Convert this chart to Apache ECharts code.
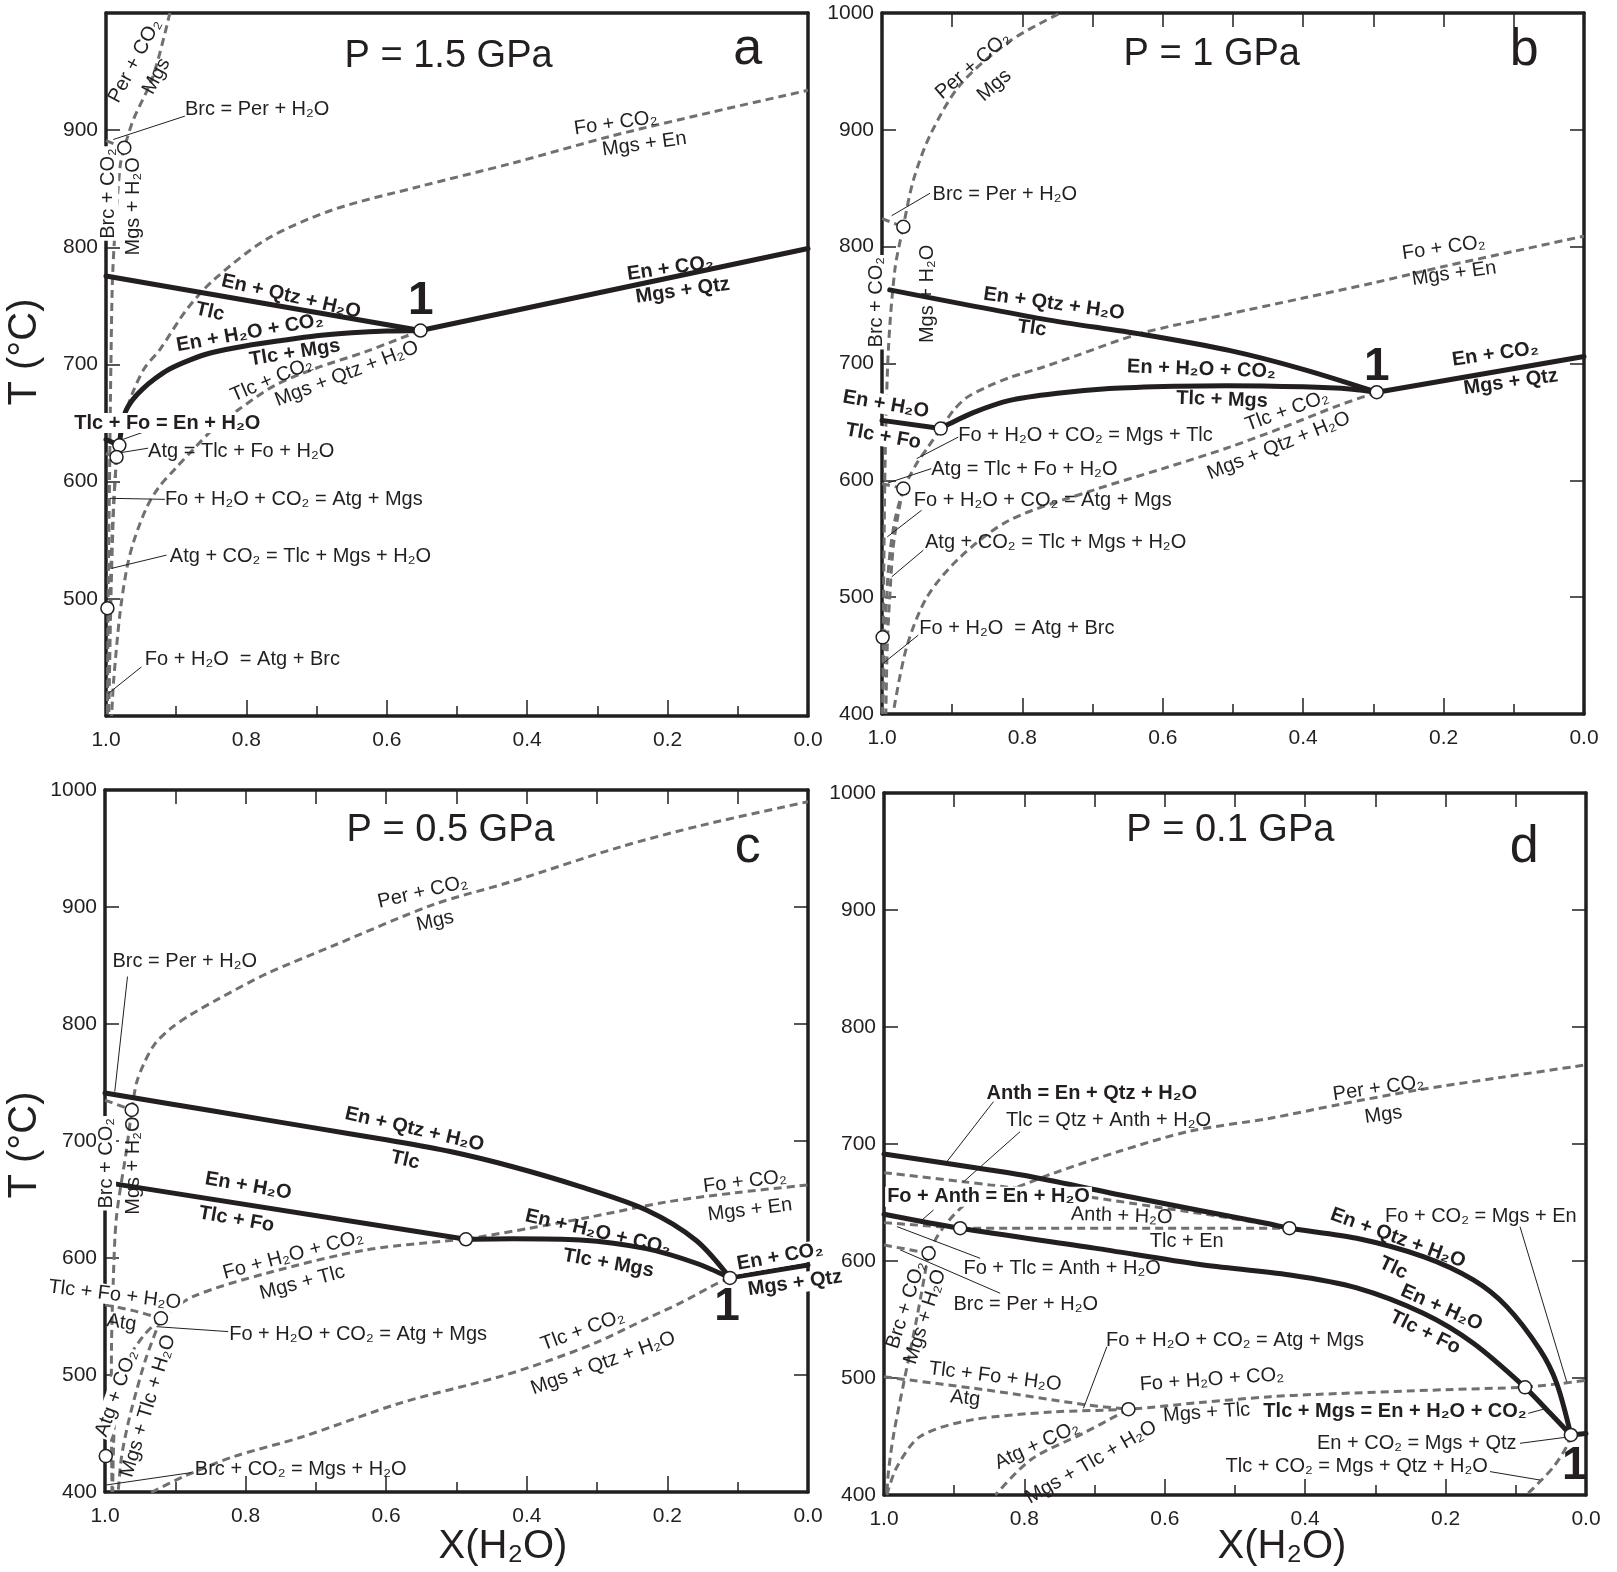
<!DOCTYPE html>
<html>
<head>
<meta charset="utf-8">
<title>T - X(H2O) sections</title>
<script src="https://cdn.jsdelivr.net/npm/echarts/dist/echarts.min.js"></script>
<style>
html,body{margin:0;padding:0;background:#fff;}
#main{width:1617px;height:1572px;}
</style>
</head>
<body>
<div id="main"></div>
<script>
// reaction curves, every point is [X(H2O), T in degC]

// ---- a : P = 1.5 GPa
var a_enQtzH2O_Tlc = [[1.0,775.5],[0.552,729]];
var a_enCO2_MgsQtz = [[0.552,729],[0.0,799]];
var a_tlcMgs_EnH2OCO2 = [[0.981,631],[0.978,645],[0.972,660],[0.962,670],[0.948,679],[0.93,688],[0.91,696],[0.88,704],[0.85,710],[0.80,716],[0.75,720.5],[0.70,724.5],[0.65,727],[0.60,728.5],[0.552,729]];
var a_tlcFo_EnH2O = [[1.0,636],[0.981,631]];
var a_perCO2_Mgs = [[0.909,1000],[0.933,946],[0.961,909],[0.974,885]];
var a_brc_PerH2O = [[1.0,891],[0.974,885]];
var a_brcCO2_MgsH2O = [[0.974,885],[0.980,869],[0.990,784],[0.993,700],[0.995,600],[0.997,500],[0.998,400]];
var a_foCO2_MgsEn = [[0.981,631],[0.972,658],[0.962,676],[0.945,697],[0.923,713],[0.885,747],[0.847,772],[0.771,807],[0.677,832],[0.553,852],[0.42,872],[0.28,895],[0.14,915],[0.0,934]];
var a_tlcCO2_MgsQtzH2O = [[0.552,729],[0.63,711],[0.70,697],[0.76,682],[0.81,662],[0.847,645],[0.875,628],[0.90,612],[0.925,595],[0.942,578],[0.960,550],[0.970,527],[0.980,488],[0.989,431],[0.992,400]];
var a_foH2OCO2_MgsTlc = [[0.981,631],[0.985,621]];
var a_atg_TlcFoH2O = [[1.0,624],[0.985,621]];
var a_foH2OCO2_AtgMgs = [[0.985,621],[0.989,580],[0.993,500],[0.996,400]];
var a_atgCO2_TlcMgsH2O = [[0.985,621],[0.991,560],[0.995,480],[0.998,400]];
var a_points = [[0.974,885],[0.552,729],[0.981,631],[0.985,621],[0.998,492]];

// ---- b : P = 1 GPa
var b_enQtzH2O_Tlc = [[0.989,763],[0.77,738],[0.63,725],[0.504,711],[0.40,695],[0.295,675.4]];
var b_enCO2_MgsQtz = [[0.295,675.4],[0.0,706]];
var b_tlcMgs_EnH2OCO2 = [[0.9164,644.3],[0.904,648.4],[0.87,658],[0.818,668.4],[0.75,674.5],[0.676,678.5],[0.58,680.5],[0.509,681],[0.40,680],[0.33,678],[0.295,675.4]];
var b_tlcFo_EnH2O = [[1.0,651.3],[0.9164,644.3]];
var b_perCO2_Mgs = [[0.749,999],[0.818,976],[0.888,939],[0.931,896],[0.9555,856.5],[0.9696,817]];
var b_brc_PerH2O = [[1.0,824],[0.9696,817]];
var b_brcCO2_MgsH2O = [[0.9696,817],[0.9813,782],[0.991,711],[0.996,600],[0.999,400]];
var b_foCO2_MgsEn = [[0.9164,644.3],[0.898,660],[0.879,671],[0.85,680],[0.818,688],[0.77,697],[0.722,707],[0.63,726],[0.509,742],[0.40,756],[0.30,769],[0.2,783],[0.1,796],[0.0,809]];
var b_foH2OCO2_MgsTlc = [[0.9164,644.3],[0.935,628],[0.950,615],[0.962,602],[0.9696,593]];
var b_atg_TlcFoH2O = [[1.0,597],[0.9696,593]];
var b_foH2OCO2_AtgMgs = [[0.9696,593],[0.977,571],[0.984,543],[0.989,500],[0.9925,458],[0.9945,400]];
var b_atgCO2_TlcMgsH2O = [[0.9696,593],[0.982,565],[0.990,530],[0.995,480],[0.998,430],[0.999,400]];
var b_tlcCO2_MgsQtzH2O = [[0.295,675.4],[0.35,664],[0.43,645],[0.504,628.6],[0.60,610],[0.699,591.6],[0.818,566],[0.889,534],[0.936,500],[0.965,457],[0.984,401]];
var b_points = [[0.9696,817],[0.2953,675.4],[0.9164,644.3],[0.9696,593],[0.9991,465.6]];

// ---- c : P = 0.5 GPa
var c_enQtzH2O_Tlc = [[1.0,741],[0.85,726],[0.70,711],[0.60,701],[0.509,691],[0.42,678],[0.324,661],[0.23,641],[0.159,615],[0.111,583]];
var c_enCO2_MgsQtz = [[0.111,583],[0.0,594]];
var c_tlcMgs_EnH2OCO2 = [[0.4866,616],[0.42,616.5],[0.324,615.4],[0.23,608],[0.159,595.5],[0.111,583]];
var c_tlcFo_EnH2O = [[0.993,664],[0.4866,616]];
var c_perCO2_Mgs = [[0.962,726.5],[0.955,750],[0.944,767],[0.929,783],[0.907,796],[0.878,808],[0.84,821],[0.77,843],[0.675,867],[0.533,902],[0.42,922],[0.269,951],[0.15,970],[0.0,990]];
var c_brc_PerH2O = [[1.0,735],[0.962,726.5]];
var c_brcCO2_MgsH2O = [[0.962,726.5],[0.9695,692],[0.9837,635],[0.9884,578],[0.9908,521],[0.991,470],[0.990,400]];
var c_foCO2_MgsEn = [[0.4866,616],[0.40,625],[0.31,635],[0.2,648],[0.1,656],[0.0,662.4]];
var c_foH2OCO2_MgsTlc = [[0.4866,616],[0.628,607],[0.77,587],[0.875,567],[0.9205,548.4]];
var c_tlcFoH2O_Atg = [[1.0,560],[0.96,555],[0.9205,548.4]];
var c_atgCO2_MgsTlcH2O = [[0.9205,548.4],[0.941,515.6],[0.955,487],[0.967,459],[0.9765,430],[0.981,402]];
var c_foH2OCO2_AtgMgs = [[0.9205,548.4],[0.946,533],[0.970,510],[0.984,479],[0.988,436],[0.989,400]];
var c_tlcCO2_MgsQtzH2O = [[0.111,583],[0.13,578],[0.18,562],[0.23,548],[0.30,528],[0.37,512],[0.439,498.5],[0.58,476],[0.72,447],[0.818,430],[0.889,413],[0.936,399]];
var c_points = [[0.962,726.5],[0.9205,548.4],[0.4866,616],[0.111,583],[0.9989,430.7]];

// ---- d : P = 0.1 GPa
var d_enQtzH2O_Tlc = [[1.0,691.5],[0.849,677.8],[0.79,672],[0.643,654],[0.45,631.6],[0.4225,628],[0.3266,619.4],[0.2318,603.7],[0.1605,583.8],[0.113,561],[0.0655,524],[0.0418,495.5],[0.0215,451.3]];
var d_enCO2_MgsQtz = [[0.0215,451.3],[0.0,452.5]];
var d_tlcFo_EnH2O = [[1.0,640],[0.8915,628],[0.7,611],[0.55,597],[0.4217,588],[0.3266,577],[0.2318,555.3],[0.1605,529.7],[0.0869,492],[0.0513,470],[0.0215,451.3]];
var d_perCO2_Mgs = [[0.9365,606.6],[0.925,620],[0.91,633],[0.885,648],[0.863,654],[0.8156,662],[0.7586,675],[0.6637,694],[0.5641,711],[0.45,722],[0.35,734],[0.2411,746],[0.12,757],[0.0,767.6]];
var d_brc_PerH2O = [[1.0,613.7],[0.9365,606.6]];
var d_brcCO2_MgsH2O = [[0.9365,606.6],[0.953,552],[0.972,495.5],[0.986,452.7],[0.9935,421],[0.996,400]];
var d_tlc_QtzAnthH2O = [[1.0,675.5],[0.887,667.8],[0.849,665],[0.7115,655],[0.616,646.5],[0.521,638],[0.4225,628]];
var d_foTlc_AnthH2O = [[1.0,632.8],[0.8915,628]];
var d_anthH2O_TlcEn = [[0.8915,628],[0.4225,628]];
var d_tlcFoH2O_Atg = [[1.0,501],[0.8535,489.7],[0.711,477],[0.6518,473.3]];
var d_foH2OCO2_MgsTlc = [[0.996,400],[0.9816,424],[0.9485,450],[0.877,464],[0.7586,471],[0.6518,473.3],[0.55,479],[0.45,484],[0.3836,486],[0.2,490],[0.0869,492]];
var d_foCO2_MgsEn = [[0.0869,492],[0.04,495],[0.0,498]];
var d_atgCO2_MgsTlcH2O = [[0.6518,473.3],[0.7166,452.6],[0.79,430.6],[0.8414,400]];
var d_tlcCO2_MgsQtzH2O = [[0.0215,451.3],[0.028,441],[0.045,425],[0.063,413],[0.085,400]];
var d_points = [[0.9365,606.6],[0.8915,628],[0.4225,628],[0.6518,473.3],[0.0869,492],[0.0215,451.3]];

// axis ticks
var xTicks = [1.0,0.8,0.6,0.4,0.2,0.0];
var tTicks = [400,500,600,700,800,900,1000];

var INK = '#231f20', GREY = '#707070';
var FONT = '"Liberation Sans", Arial, Helvetica, sans-serif';

var panels = [
  {grid:{left:106,top:13,width:702,height:703}, ends:false, topTicks:false},
  {grid:{left:882,top:13,width:702,height:701}, ends:true, topTicks:true},
  {grid:{left:105,top:790,width:703,height:702}, ends:true, topTicks:true},
  {grid:{left:884,top:793,width:702,height:702}, ends:true, topTicks:true}
];

// s = thick solid, d = grey dashed
var curves = [
  [0,'s',a_enQtzH2O_Tlc],[0,'s',a_enCO2_MgsQtz],[0,'s',a_tlcMgs_EnH2OCO2],[0,'s',a_tlcFo_EnH2O],
  [0,'d',a_perCO2_Mgs],[0,'d',a_brc_PerH2O],[0,'d',a_brcCO2_MgsH2O],[0,'d',a_foCO2_MgsEn],
  [0,'d',a_tlcCO2_MgsQtzH2O],[0,'d',a_foH2OCO2_MgsTlc],[0,'d',a_atg_TlcFoH2O],[0,'d',a_foH2OCO2_AtgMgs],[0,'d',a_atgCO2_TlcMgsH2O],
  [1,'s',b_enQtzH2O_Tlc],[1,'s',b_enCO2_MgsQtz],[1,'s',b_tlcMgs_EnH2OCO2],[1,'s',b_tlcFo_EnH2O],
  [1,'d',b_perCO2_Mgs],[1,'d',b_brc_PerH2O],[1,'d',b_brcCO2_MgsH2O],[1,'d',b_foCO2_MgsEn],[1,'d',b_foH2OCO2_MgsTlc],
  [1,'d',b_atg_TlcFoH2O],[1,'d',b_foH2OCO2_AtgMgs],[1,'d',b_atgCO2_TlcMgsH2O],[1,'d',b_tlcCO2_MgsQtzH2O],
  [2,'s',c_enQtzH2O_Tlc],[2,'s',c_enCO2_MgsQtz],[2,'s',c_tlcMgs_EnH2OCO2],[2,'s',c_tlcFo_EnH2O],
  [2,'d',c_perCO2_Mgs],[2,'d',c_brc_PerH2O],[2,'d',c_brcCO2_MgsH2O],[2,'d',c_foCO2_MgsEn],[2,'d',c_foH2OCO2_MgsTlc],
  [2,'d',c_tlcFoH2O_Atg],[2,'d',c_atgCO2_MgsTlcH2O],[2,'d',c_foH2OCO2_AtgMgs],[2,'d',c_tlcCO2_MgsQtzH2O],
  [3,'s',d_enQtzH2O_Tlc],[3,'s',d_enCO2_MgsQtz],[3,'s',d_tlcFo_EnH2O],
  [3,'d',d_perCO2_Mgs],[3,'d',d_brc_PerH2O],[3,'d',d_brcCO2_MgsH2O],[3,'d',d_tlc_QtzAnthH2O],[3,'d',d_foTlc_AnthH2O],
  [3,'d',d_anthH2O_TlcEn],[3,'d',d_tlcFoH2O_Atg],[3,'d',d_foH2OCO2_MgsTlc],[3,'d',d_foCO2_MgsEn],
  [3,'d',d_atgCO2_MgsTlcH2O],[3,'d',d_tlcCO2_MgsQtzH2O]
];
var pointSets = [a_points, b_points, c_points, d_points];

// leader lines from labels to their curves
var leaders = [
  [0,[[0.8876,912],[0.9897,892]]],[0,[[0.9304,645.7],[0.9851,634.2]]],[0,[[0.94,628.6],[0.9898,623.7]]],
  [0,[[0.9161,584.9],[0.9944,585.8]]],[0,[[0.9139,537.3],[0.992,526]]],[0,[[0.9495,441.9],[0.9969,419.1]]],
  [1,[[0.9317,845.7],[0.9862,826.5]]],[1,[[0.8913,637],[0.9506,618.6]]],[1,[[0.9298,610],[0.9916,597.7]]],
  [1,[[0.9436,574.4],[0.9925,551.6]]],[1,[[0.9412,540.2],[0.9862,517.4]]],[1,[[0.9483,467.5],[0.9983,443.4]]],
  [2,[[0.968,840.5],[0.9861,742.2]]],[2,[[0.8248,537.1],[0.9268,541.3]]],[2,[[0.8769,416.6],[0.998,406]]],
  [3,[[0.8441,736.2],[0.9104,684.9]]],[3,[[0.8062,710.5],[0.8869,667.6]]],[3,[[0.9295,643.6],[0.9486,633.6]]],
  [3,[[0.863,602.3],[0.9816,629.4]]],[3,[[0.8345,572.4],[0.977,609.5]]],[3,[[0.094,629.3],[0.0275,496.8]]],
  [3,[[0.6825,526.8],[0.7159,474.1]]],[3,[[0.0822,469.8],[0.056,474.1]]],[3,[[0.094,444.2],[0.0228,449.8]]],
  [3,[[0.1368,420],[0.0655,412.8]]]
];

// labels: p panel, x/t anchor, r rotation (deg), b bold, a align, bg white knock-out, k kind
var notes = [
  {p:0,x:0.512,t:963,s:'P = 1.5 GPa',k:'title'},
  {p:0,x:0.086,t:969,s:'a',k:'letter'},
  {p:0,x:0.9588,t:959,s:'Per + CO₂',r:62},
  {p:0,x:0.928,t:946,s:'Mgs',r:62},
  {p:0,x:0.8876,t:918,s:'Brc = Per + H₂O',a:'left'},
  {p:0,x:0.9968,t:846,s:'Brc + CO₂',r:90,bg:1},
  {p:0,x:0.9612,t:835,s:'Mgs + H₂O',r:90},
  {p:0,x:0.274,t:906,s:'Fo + CO₂',r:8},
  {p:0,x:0.233,t:888,s:'Mgs + En',r:8},
  {p:0,x:0.196,t:782,s:'En + CO₂',r:8,b:1},
  {p:0,x:0.1785,t:763,s:'Mgs + Qtz',r:8,b:1},
  {p:0,x:0.5517,t:754,s:'1',k:'one'},
  {p:0,x:0.7364,t:758,s:'En + Qtz + H₂O',r:-13,b:1},
  {p:0,x:0.852,t:745,s:'Tlc',r:-13,b:1},
  {p:0,x:0.795,t:727,s:'En + H₂O + CO₂',r:10,b:1},
  {p:0,x:0.731,t:710,s:'Tlc + Mgs',r:9,b:1},
  {p:0,x:0.764,t:687,s:'Tlc + CO₂',r:23},
  {p:0,x:0.657,t:692,s:'Mgs + Qtz + H₂O',r:21},
  {p:0,x:0.9127,t:650,s:'Tlc + Fo = En + H₂O',b:1,bg:1},
  {p:0,x:0.94,t:625.6,s:'Atg = Tlc + Fo + H₂O',a:'left'},
  {p:0,x:0.9161,t:584.4,s:'Fo + H₂O + CO₂ = Atg + Mgs',a:'left'},
  {p:0,x:0.9091,t:535.9,s:'Atg + CO₂ = Tlc + Mgs + H₂O',a:'left'},
  {p:0,x:0.9447,t:448.2,s:'Fo + H₂O  = Atg + Brc',a:'left'},

  {p:1,x:0.5303,t:964.5,s:'P = 1 GPa',k:'title'},
  {p:1,x:0.0852,t:968,s:'b',k:'letter'},
  {p:1,x:0.8704,t:955,s:'Per + CO₂',r:41},
  {p:1,x:0.8399,t:938,s:'Mgs',r:41},
  {p:1,x:0.9279,t:845,s:'Brc = Per + H₂O',a:'left'},
  {p:1,x:1.0076,t:752.5,s:'Brc + CO₂',r:90,bg:1},
  {p:1,x:0.9357,t:759.6,s:'Mgs + H₂O',r:90},
  {p:1,x:0.1998,t:799,s:'Fo + CO₂',r:8},
  {p:1,x:0.1851,t:777,s:'Mgs + En',r:8},
  {p:1,x:0.7549,t:751,s:'En + Qtz + H₂O',r:-8,b:1},
  {p:1,x:0.7865,t:730,s:'Tlc',r:-8,b:1},
  {p:1,x:0.545,t:695,s:'En + H₂O + CO₂',r:-2,b:1},
  {p:1,x:0.5157,t:669,s:'Tlc + Mgs',r:-2,b:1},
  {p:1,x:0.2953,t:697,s:'1',k:'one'},
  {p:1,x:0.1263,t:708,s:'En + CO₂',r:8,b:1},
  {p:1,x:0.1043,t:684,s:'Mgs + Qtz',r:8,b:1},
  {p:1,x:0.9944,t:665,s:'En + H₂O',r:-10,b:1,bg:1},
  {p:1,x:0.9982,t:637.6,s:'Tlc + Fo',r:-10,b:1,bg:1},
  {p:1,x:0.8913,t:638.5,s:'Fo + H₂O + CO₂ = Mgs + Tlc',a:'left'},
  {p:1,x:0.4231,t:659.5,s:'Tlc + CO₂',r:20},
  {p:1,x:0.4349,t:629.5,s:'Mgs + Qtz + H₂O',r:22},
  {p:1,x:0.9298,t:609.2,s:'Atg = Tlc + Fo + H₂O',a:'left'},
  {p:1,x:0.9546,t:582.4,s:'Fo + H₂O + CO₂ = Atg + Mgs',a:'left'},
  {p:1,x:0.9387,t:546.5,s:'Atg + CO₂ = Tlc + Mgs + H₂O',a:'left'},
  {p:1,x:0.9468,t:473.2,s:'Fo + H₂O  = Atg + Brc',a:'left'},

  {p:2,x:0.5084,t:965.7,s:'P = 0.5 GPa',k:'title'},
  {p:2,x:0.0858,t:950.7,s:'c',k:'letter'},
  {p:2,x:0.548,t:912.8,s:'Per + CO₂',r:13},
  {p:2,x:0.5305,t:888,s:'Mgs',r:13},
  {p:2,x:0.9893,t:853.3,s:'Brc = Per + H₂O',a:'left'},
  {p:2,x:0.9985,t:681,s:'Brc + CO₂',r:90,bg:1},
  {p:2,x:0.96,t:679,s:'Mgs + H₂O',r:90},
  {p:2,x:0.5598,t:710,s:'En + Qtz + H₂O',r:-13,b:1},
  {p:2,x:0.573,t:683.6,s:'Tlc',r:-13,b:1},
  {p:2,x:0.7963,t:661.5,s:'En + H₂O',r:-10,b:1},
  {p:2,x:0.8129,t:633,s:'Tlc + Fo',r:-10,b:1},
  {p:2,x:0.0897,t:665.2,s:'Fo + CO₂',r:7},
  {p:2,x:0.0825,t:641.1,s:'Mgs + En',r:7},
  {p:2,x:0.2986,t:622,s:'En + H₂O + CO₂',r:-13,b:1},
  {p:2,x:0.2839,t:595.5,s:'Tlc + Mgs',r:-10,b:1},
  {p:2,x:0.0398,t:601.1,s:'En + CO₂',r:10,b:1,bg:1},
  {p:2,x:0.0185,t:578.4,s:'Mgs + Qtz',r:8,b:1,bg:1},
  {p:2,x:0.1152,t:557.6,s:'1',k:'one'},
  {p:2,x:0.7324,t:602.6,s:'Fo + H₂O + CO₂',r:15},
  {p:2,x:0.7194,t:578.9,s:'Mgs + Tlc',r:15},
  {p:2,x:0.9861,t:568.4,s:'Tlc + Fo + H₂O',r:-7,bg:1},
  {p:2,x:0.9765,t:544.7,s:'Atg',r:-8},
  {p:2,x:0.8233,t:535,s:'Fo + H₂O + CO₂ = Atg + Mgs',a:'left'},
  {p:2,x:0.9836,t:484.4,s:'Atg + CO₂',r:70,bg:1},
  {p:2,x:0.9387,t:473.5,s:'Mgs + Tlc + H₂O',r:73},
  {p:2,x:0.3206,t:538.2,s:'Tlc + CO₂',r:20},
  {p:2,x:0.2913,t:510,s:'Mgs + Qtz + H₂O',r:20},
  {p:2,x:0.8722,t:419.4,s:'Brc + CO₂ = Mgs + H₂O',a:'left'},

  {p:3,x:0.5066,t:968.3,s:'P = 0.1 GPa',k:'title'},
  {p:3,x:0.0881,t:953.3,s:'d',k:'letter'},
  {p:3,x:0.704,t:743.3,s:'Anth = En + Qtz + H₂O',b:1},
  {p:3,x:0.6803,t:720.5,s:'Tlc = Qtz + Anth + H₂O'},
  {p:3,x:0.8511,t:655,s:'Fo + Anth = En + H₂O',b:1,bg:1},
  {p:3,x:0.6614,t:638.5,s:'Anth + H₂O',r:-2},
  {p:3,x:0.5688,t:616.5,s:'Tlc + En'},
  {p:3,x:0.8868,t:593.7,s:'Fo + Tlc = Anth + H₂O',a:'left'},
  {p:3,x:0.901,t:563.2,s:'Brc = Per + H₂O',a:'left'},
  {p:3,x:0.9684,t:562.4,s:'Brc + CO₂',r:72},
  {p:3,x:0.9413,t:552.4,s:'Mgs + H₂O',r:72},
  {p:3,x:0.2957,t:747.6,s:'Per + CO₂',r:8},
  {p:3,x:0.2887,t:724.8,s:'Mgs',r:8},
  {p:3,x:0.2863,t:637.9,s:'Fo + CO₂ = Mgs + En',a:'left'},
  {p:3,x:0.268,t:619.5,s:'En + Qtz + H₂O',r:-20,b:1},
  {p:3,x:0.2745,t:594,s:'Tlc',r:-25,b:1},
  {p:3,x:0.2056,t:560,s:'En + H₂O',r:-24,b:1},
  {p:3,x:0.2293,t:539,s:'Tlc + Fo',r:-26,b:1},
  {p:3,x:0.6836,t:531.9,s:'Fo + H₂O + CO₂ = Atg + Mgs',a:'left'},
  {p:3,x:0.533,t:498.5,s:'Fo + H₂O + CO₂',r:4},
  {p:3,x:0.5404,t:470.3,s:'Mgs + Tlc',r:4},
  {p:3,x:0.8417,t:501.1,s:'Tlc + Fo + H₂O',r:-7},
  {p:3,x:0.8843,t:482.7,s:'Atg',r:-6},
  {p:3,x:0.4596,t:471.2,s:'Tlc + Mgs = En + H₂O + CO₂',a:'left',b:1},
  {p:3,x:0.7822,t:442.7,s:'Atg + CO₂',r:25},
  {p:3,x:0.7048,t:427.9,s:'Mgs + Tlc + H₂O',r:30},
  {p:3,x:0.2411,t:444.2,s:'En + CO₂ = Mgs + Qtz'},
  {p:3,x:0.3266,t:424.2,s:'Tlc + CO₂ = Mgs + Qtz + H₂O'},
  {p:3,x:0.016,t:424.2,s:'1',k:'one'}
];

function lineStyleFor(kind){
  if (kind === 's') return {color: INK, width: 5, cap: 'round', join: 'round'};
  if (kind === 'l') return {color: INK, width: 1};
  return {color: GREY, width: 3, type: [8, 5]};
}

var xAxes = [], yAxes = [], grids = [], series = [];
panels.forEach(function(pn, i){
  grids.push(pn.grid);
  var frame = {show: true, onZero: false, lineStyle: {color: INK, width: 3.5}};
  var tick = {show: true, inside: true, length: 16, lineStyle: {color: INK, width: 1.5}};
  var minor = {show: true, splitNumber: 2, length: 10, lineStyle: {color: INK, width: 1.5}};
  xAxes.push({gridIndex: i, type: 'value', min: 0, max: 1, interval: 0.2, inverse: true, position: 'bottom',
    axisLine: frame, axisTick: tick, minorTick: minor, splitLine: {show: false},
    axisLabel: {show: true, margin: 14, color: INK, fontSize: 21, fontFamily: FONT, showMinLabel: true, showMaxLabel: true,
      formatter: function(v){ return v.toFixed(1); }}});
  xAxes.push({gridIndex: i, type: 'value', min: 0, max: 1, interval: 0.2, inverse: true, position: 'top',
    axisLine: frame, axisTick: {show: pn.topTicks, inside: true, length: 14, lineStyle: {color: INK, width: 1.5}},
    minorTick: {show: pn.topTicks, splitNumber: 2, length: 14, lineStyle: {color: INK, width: 1.5}},
    axisLabel: {show: false}, splitLine: {show: false}});
  yAxes.push({gridIndex: i, type: 'value', min: 400, max: 1000, interval: 100, position: 'left',
    axisLine: frame, axisTick: {show: true, inside: true, length: 14, lineStyle: {color: INK, width: 1.5}},
    splitLine: {show: false},
    axisLabel: {show: true, margin: 8, color: INK, fontSize: 21, fontFamily: FONT, showMinLabel: true, showMaxLabel: true,
      formatter: function(v){ if (!pn.ends && (v === tTicks[0] || v === tTicks[tTicks.length-1])) return ''; return String(v); }}});
  yAxes.push({gridIndex: i, type: 'value', min: 400, max: 1000, interval: 100, position: 'right',
    axisLine: frame, axisTick: {show: i > 0, inside: true, length: 14, lineStyle: {color: INK, width: 1.5}},
    axisLabel: {show: false}, splitLine: {show: false}});
});

curves.forEach(function(c){
  series.push({type: 'line', xAxisIndex: c[0]*2, yAxisIndex: c[0]*2, data: c[2], symbol: 'none', silent: true,
    smooth: c[2].length > 2 ? 0.3 : false, lineStyle: lineStyleFor(c[1]), z: c[1] === 's' ? 4 : 3});
});
leaders.forEach(function(l){
  series.push({type: 'line', xAxisIndex: l[0]*2, yAxisIndex: l[0]*2, data: l[1], symbol: 'none', silent: true,
    lineStyle: lineStyleFor('l'), z: 5});
});
pointSets.forEach(function(pts, i){
  series.push({type: 'scatter', xAxisIndex: i*2, yAxisIndex: i*2, data: pts, symbol: 'circle', symbolSize: 13, silent: true,
    itemStyle: {color: '#fff', borderColor: INK, borderWidth: 1.5, opacity: 1}, z: 20});
});

var chart = echarts.init(document.getElementById('main'), null, {renderer: 'canvas'});
chart.setOption({animation: false, backgroundColor: '#fff', grid: grids, xAxis: xAxes, yAxis: yAxes, series: series});

function fontFor(n){
  if (n.k === 'title') return 'normal 38px ' + FONT;
  if (n.k === 'letter') return 'normal 52px ' + FONT;
  if (n.k === 'one') return 'bold 46px ' + FONT;
  return (n.b ? 'bold ' : 'normal ') + '20px ' + FONT;
}

var els = [];
notes.forEach(function(n){
  var p = chart.convertToPixel({xAxisIndex: n.p*2, yAxisIndex: n.p*2}, [n.x, n.t]);
  var st = {text: n.s, font: fontFor(n), fill: INK, textAlign: n.a || 'center', textVerticalAlign: 'middle',
    align: n.a || 'center', verticalAlign: 'middle'};
  if (n.bg) { st.backgroundColor = '#fff'; st.padding = [0, 2]; }
  els.push({type: 'text', x: p[0], y: p[1], rotation: (n.r || 0) * Math.PI / 180, z: 10, silent: true, style: st});
});
// axis titles
[[25,352,'T (°C)',90],[25,1145,'T (°C)',90],[503,1547,'X(H₂O)',0],[1282,1547,'X(H₂O)',0]].forEach(function(t){
  els.push({type: 'text', x: t[0], y: t[1], rotation: t[3]*Math.PI/180, z: 10, silent: true,
    style: {text: t[2], font: 'normal 40px ' + FONT, fill: INK, textAlign: 'center', textVerticalAlign: 'middle',
      align: 'center', verticalAlign: 'middle'}});
});
chart.setOption({graphic: {elements: els}});
</script>
</body>
</html>
